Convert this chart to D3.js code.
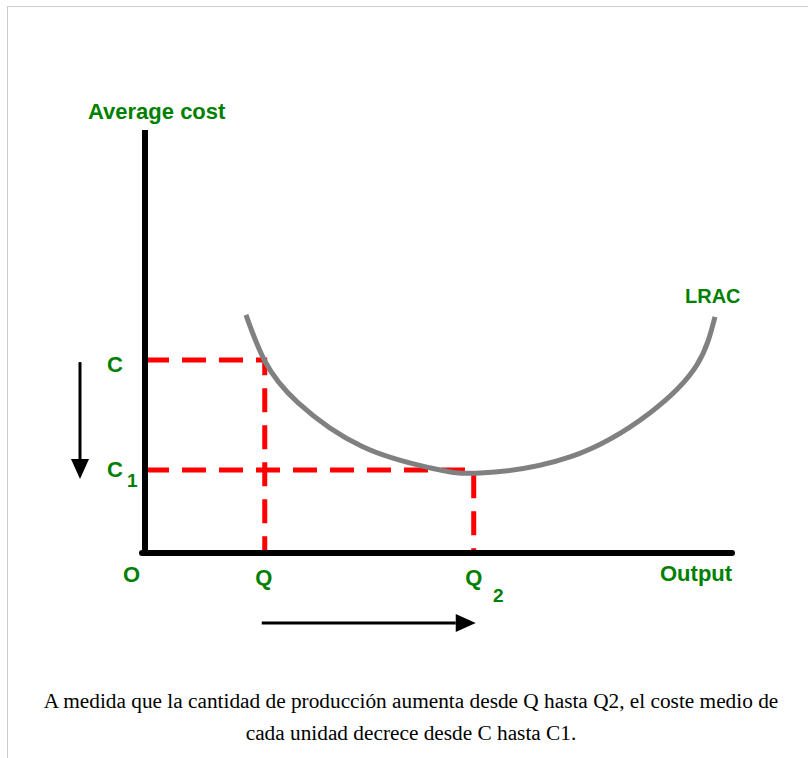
<!DOCTYPE html>
<html>
<head>
<meta charset="utf-8">
<script src="https://cdn.jsdelivr.net/npm/d3@7"></script>
<style>
  body { margin: 0; background: #fff; }
  svg { display: block; }
</style>
</head>
<body>
<div id="chart"></div>
<script>
// data (x = output, y = average cost, both 0..100)
const curveOutput = [17.2, 20.4, 26.1, 37.1, 48.6, 57.1, 72.4, 86.0, 94.0, 97.1];
const curveCost   = [56.3, 45.4, 35.5, 25.1, 20.1, 18.9, 22.7, 33.1, 44.4, 55.8];
const qLevels = [20.4, 56.0];   // Q, Q2
const cLevels = [45.6, 19.6];   // C, C1
const caption = [
  "A medida que la cantidad de producción aumenta desde Q hasta Q2, el coste medio de",
  "cada unidad decrece desde C hasta C1."
];

const W = 808, H = 758;
const green = "#008000";

const svg = d3.select("#chart").append("svg")
  .attr("width", W)
  .attr("height", H);

// frame
svg.append("rect")
  .attr("x", 7.5).attr("y", 6.5)
  .attr("width", W).attr("height", H)
  .attr("fill", "none")
  .attr("stroke", "#ccc")
  .attr("stroke-width", 1);

const x = d3.scaleLinear().domain([0, 100]).range([145, 732]);
const y = d3.scaleLinear().domain([0, 100]).range([553, 130]);

// red dashed guides
const guides = qLevels.map((q, i) => ({ q, c: cLevels[i] }));
svg.selectAll(".guide")
  .data(guides)
  .enter().append("path")
  .attr("class", "guide")
  .attr("d", d => `M${x(0)},${y(d.c)}H${x(d.q)}V${y(0)}`)
  .attr("fill", "none")
  .attr("stroke", "#ff0000")
  .attr("stroke-width", 5)
  .attr("stroke-dasharray", "24,13");

// LRAC curve
const pts = curveOutput.map((v, i) => [v, curveCost[i]]);
svg.append("path")
  .datum(pts)
  .attr("fill", "none")
  .attr("stroke", "#808080")
  .attr("stroke-width", 5)
  .attr("d", d3.line()
    .x(d => x(d[0]))
    .y(d => y(d[1]))
    .curve(d3.curveNatural));

// axes
svg.append("line")
  .attr("x1", x(0)).attr("x2", x(0))
  .attr("y1", y(100)).attr("y2", y(0) + 3)
  .attr("stroke", "#000").attr("stroke-width", 6);
svg.append("line")
  .attr("x1", x(0) - 3).attr("x2", x(100))
  .attr("y1", y(0)).attr("y2", y(0))
  .attr("stroke", "#000").attr("stroke-width", 6)
  .attr("stroke-linecap", "round");

// arrows
function arrow(x1, y1, x2, y2) {
  const a = Math.atan2(y2 - y1, x2 - x1), len = 20, hw = 9;
  const bx = x2 - len * Math.cos(a), by = y2 - len * Math.sin(a);
  svg.append("line")
    .attr("x1", x1).attr("y1", y1).attr("x2", bx).attr("y2", by)
    .attr("stroke", "#000").attr("stroke-width", 3);
  svg.append("path")
    .attr("d", `M${x2},${y2}L${bx + hw * Math.sin(a)},${by - hw * Math.cos(a)}L${bx - hw * Math.sin(a)},${by + hw * Math.cos(a)}Z`)
    .attr("fill", "#000");
}
arrow(80, y(cLevels[0]) + 2, 80, y(cLevels[1]) + 9);
arrow(x(qLevels[0]) - 3, 623, x(qLevels[1]) + 2, 623);

// labels
const font = "Arial, 'Liberation Sans', sans-serif";
function label(txt, lx, ly, size, anchor) {
  return svg.append("text")
    .attr("x", lx).attr("y", ly)
    .attr("fill", green)
    .attr("font-family", font)
    .attr("font-weight", "bold")
    .attr("font-size", size)
    .attr("text-anchor", anchor || "start")
    .text(txt);
}
label("Average cost", 88, 119, 22);
label("LRAC", 685, 303, 20);
label("Output", 660, 581, 22);
label("O", 123, 582, 22);
label("C", 107, 372, 22);
label("C", 107, 477, 22);
label("1", 127, 487, 19);
label("Q", x(qLevels[0]) - 1, 585, 22, "middle");
label("Q", x(qLevels[1]), 585, 22, "middle");
label("2", 493, 602, 19);

// caption
svg.selectAll(".caption")
  .data(caption)
  .enter().append("text")
  .attr("class", "caption")
  .attr("x", 411)
  .attr("y", (d, i) => 708 + i * 32)
  .attr("text-anchor", "middle")
  .attr("font-family", "'Liberation Serif', 'Times New Roman', serif")
  .attr("font-size", 21.3)
  .attr("fill", "#000")
  .text(d => d);
</script>
</body>
</html>
